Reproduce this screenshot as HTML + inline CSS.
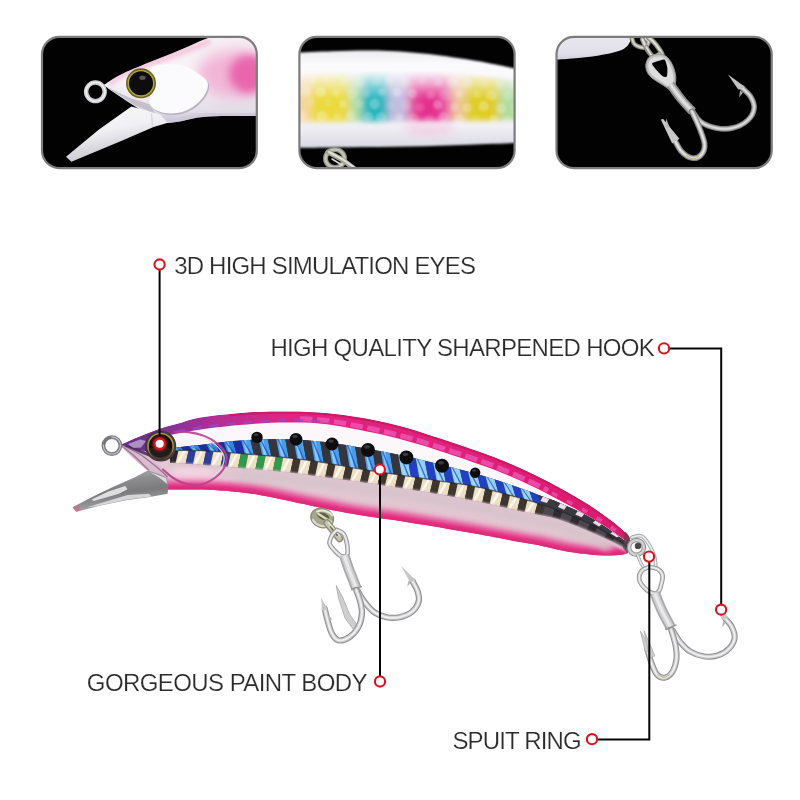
<!DOCTYPE html>
<html><head><meta charset="utf-8"><title>lure</title>
<style>
html,body{margin:0;padding:0;background:#fff;width:800px;height:800px;overflow:hidden}
svg{display:block}
text{font-family:"Liberation Sans",sans-serif}
</style></head><body>
<svg width="800" height="800" viewBox="0 0 800 800">
<defs>
<filter id="tb" x="-20%" y="-20%" width="140%" height="140%"><feGaussianBlur stdDeviation="0.7"/></filter>
<filter id="tb15" x="-30%" y="-30%" width="160%" height="160%"><feGaussianBlur stdDeviation="1.3"/></filter>
<filter id="tb2" x="-30%" y="-30%" width="160%" height="160%"><feGaussianBlur stdDeviation="2"/></filter>
<filter id="tb4" x="-50%" y="-50%" width="200%" height="200%"><feGaussianBlur stdDeviation="4.5"/></filter>
<filter id="tb7" x="-50%" y="-50%" width="200%" height="200%"><feGaussianBlur stdDeviation="7"/></filter>
<clipPath id="tc0"><rect x="42" y="36.9" width="214.8" height="131.2" rx="17.5" /></clipPath>
<clipPath id="tc1"><rect x="299.4" y="36.9" width="215.2" height="131.2" rx="17.5" /></clipPath>
<clipPath id="tc2"><rect x="556.5" y="36.9" width="215.2" height="131.2" rx="17.5" /></clipPath>
<linearGradient id="t1body" x1="0" y1="0" x2="0" y2="1"><stop offset="0" stop-color="#f6eef4"/><stop offset=".55" stop-color="#f7f5f8"/><stop offset=".85" stop-color="#e4dfe9"/><stop offset="1" stop-color="#cfc9d8"/></linearGradient>
<clipPath id="t1bc"><path d="M103.5 85.1C106.3 83.4 112.3 78.8 120 74.9C127.8 71.1 140 66.2 150 62C160 57.9 171 53.8 180 50C189 46.3 197 42.3 204 39.5C211 36.8 219 34.5 222 33.5L262 30L262 116.5L262 116.5C261.2 116.4 263.8 116.1 257.1 116C250.4 115.9 231.9 115.8 222 116C212.2 116.3 205 116.6 198 117.5C191 118.4 186 120.6 180 121.4C174 122.3 167 123.5 162 122.6C157 121.7 155 119 150 116C145 113 138 108.5 132 104.6C126 100.7 118.8 95.9 114 92.6C109.3 89.4 105.3 86.4 103.5 85.1Z"/></clipPath>
<linearGradient id="t1lip" x1="0" y1="0" x2=".35" y2="1"><stop offset="0" stop-color="#fbfbfd"/><stop offset=".5" stop-color="#f0eff3"/><stop offset="1" stop-color="#c5c3cd"/></linearGradient>
<linearGradient id="t2body" x1="0" y1="0" x2="0" y2="1"><stop offset="0" stop-color="#ecebf1"/><stop offset=".14" stop-color="#fbfbfd"/><stop offset=".75" stop-color="#f4f3f8"/><stop offset="1" stop-color="#d9d9e4"/></linearGradient>
<linearGradient id="t2mg" gradientUnits="userSpaceOnUse" x1="0" y1="71" x2="0" y2="126"><stop offset="0" stop-color="#000"/><stop offset=".16" stop-color="#555"/><stop offset=".36" stop-color="#bbb"/><stop offset=".52" stop-color="#fff"/><stop offset=".84" stop-color="#fff"/><stop offset=".97" stop-color="#000"/></linearGradient>
<mask id="t2mask" maskUnits="userSpaceOnUse" x="290" y="60" width="240" height="80"><g filter="url(#tb2)"><path d="M292 74.5C301.3 74.2 328.7 73.4 348 72.8C367.3 72.2 388 70.7 408 71C428 71.3 448.7 72.8 468 74.6C487.3 76.4 514.7 80.8 524 82L524 122C514.7 122.1 487.3 122.4 468 122.6C448.7 122.8 428 122.9 408 123.2C388 123.5 367.3 124 348 124.4C328.7 124.8 301.3 125.3 292 125.5Z" fill="url(#t2mg)"/></g></mask>
<linearGradient id="t3body" x1="0" y1="0" x2="0" y2="1"><stop offset="0" stop-color="#ececf2"/><stop offset=".7" stop-color="#e1e0ea"/><stop offset="1" stop-color="#c9c8d6"/></linearGradient>
<filter id="lb" x="-5%" y="-10%" width="110%" height="120%"><feGaussianBlur stdDeviation="0.6"/></filter>
<filter id="lb1" x="-10%" y="-20%" width="120%" height="140%"><feGaussianBlur stdDeviation="1.1"/></filter>
<filter id="lb3" x="-10%" y="-30%" width="120%" height="160%"><feGaussianBlur stdDeviation="3"/></filter>
<filter id="lb5" x="-10%" y="-40%" width="120%" height="180%"><feGaussianBlur stdDeviation="5"/></filter>
<clipPath id="lbody"><path d="M121.5 444.5L127.5 441.8L133.5 439.1L139.5 436.6L145.5 434.1L151.5 431.7L157.5 429.4L163.5 427.4L169.5 425.7L175.5 424.2L181.5 422.6L187.5 420.6L193.5 418.8L199.5 417.6L205.5 416.7L211.5 415.9L217.5 415.1L223.5 414.5L229.5 413.9L235.5 413.4L241.5 412.9L247.5 412.5L253.5 412.1L259.5 411.9L265.5 411.7L271.5 411.5L277.5 411.4L283.5 411.4L289.5 411.4L295.5 411.5L301.5 411.6L307.5 411.9L313.5 412.2L319.5 412.6L325.5 413.1L331.5 413.6L337.5 414.3L343.5 415L349.5 415.9L355.5 416.8L361.5 417.8L367.5 418.8L373.5 420L379.5 421.2L385.5 422.5L391.5 423.9L397.5 425.4L403.5 426.9L409.5 428.7L415.5 430.5L421.5 432.4L427.5 434.4L433.5 436.4L439.5 438.3L445.5 440.3L451.5 442.3L457.5 444.3L463.5 446.3L469.5 448.4L475.5 450.4L481.5 452.5L487.5 454.7L493.5 456.9L499.5 459.3L505.5 461.7L511.5 464.3L517.5 466.9L523.5 469.6L529.5 472.4L535.5 475.3L541.5 478.3L547.5 481.3L553.5 484.5L559.5 487.7L565.5 491.1L571.5 494.5L577.5 498L583.5 501.6L589.5 505.3L595.5 509.3L601.5 513.6L607.5 517.9L613.5 522.3L619.5 527.2L625.5 532.5L627 533.9C631.5 537 632 550 627 553.6L627 553.6L622 554.7L616 555.2L610 555.4L604 555.4L598 555.2L592 554.7L586 554.1L580 553.4L574 552.6L568 551.7L562 550.5L556 549.2L550 547.8L544 546.4L538 545.1L532 544.1L526 543.1L520 542L514 540.9L508 539.7L502 538.6L496 537.5L490 536.3L484 535.2L478 534.1L472 533.1L466 532L460 530.9L454 529.9L448 528.9L442 527.8L436 526.8L430 525.8L424 524.8L418 523.9L412 522.9L406 521.9L400 521L394 520.1L388 519.2L382 518.4L376 517.5L370 516.7L364 515.8L358 514.8L352 513.8L346 512.8L340 511.6L334 510.4L328 509.2L322 507.9L316 506.7L310 505.4L304 504.1L298 502.9L292 501.6L286 500.3L280 499L274 497.7L268 496.5L262 495.4L256 494.3L250 493.4L244 492.7L238 492L232 491.4L226 490.8L220 490.4L214 490L208 489.7L202 489.6L196 489.4L190 489.4L184 489.4L178 489.4L172 489.5L166 489.5L166 489.5L160 482L148 471L134 458L125 449.5L121.5 444.5Z"/></clipPath>
<linearGradient id="bandg" gradientUnits="userSpaceOnUse" x1="120" y1="0" x2="630" y2="0"><stop offset="0" stop-color="#6f2c88"/><stop offset=".11" stop-color="#8c3197"/><stop offset=".2" stop-color="#b82d94"/><stop offset=".3" stop-color="#d92786"/><stop offset=".42" stop-color="#e2237f"/><stop offset="1" stop-color="#dc1d6e"/></linearGradient>
<linearGradient id="lipg" x1="0" y1="0" x2=".25" y2="1"><stop offset="0" stop-color="#b9b9bb"/><stop offset=".35" stop-color="#8e8e90"/><stop offset=".62" stop-color="#7a7a7c"/><stop offset="1" stop-color="#a9a9ab"/></linearGradient>
<filter id="b1" x="-50%" y="-50%" width="200%" height="200%"><feGaussianBlur stdDeviation="1.5"/></filter>

</defs>
<rect width="800" height="800" fill="#fff"/>
<rect x="42" y="36.9" width="214.8" height="131.2" rx="17.5" fill="#020202"/>
<g clip-path="url(#tc0)"><g filter="url(#tb)">
<path d="M103.5 85.1C106.3 83.4 112.3 78.8 120 74.9C127.8 71.1 140 66.2 150 62C160 57.9 171 53.8 180 50C189 46.3 197 42.3 204 39.5C211 36.8 219 34.5 222 33.5L262 30L262 116.5L262 116.5C261.2 116.4 263.8 116.1 257.1 116C250.4 115.9 231.9 115.8 222 116C212.2 116.3 205 116.6 198 117.5C191 118.4 186 120.6 180 121.4C174 122.3 167 123.5 162 122.6C157 121.7 155 119 150 116C145 113 138 108.5 132 104.6C126 100.7 118.8 95.9 114 92.6C109.3 89.4 105.3 86.4 103.5 85.1Z" fill="url(#t1body)"/>
<g clip-path="url(#t1bc)">
<path d="M108.6 83.6C112 81.6 121.1 75.3 129 71.6C136.9 67.9 146.5 64.9 156 61.4C165.5 57.9 177 54 186 50.6C195 47.2 206 42.6 210 41" fill="none" stroke="#f3a9cd" stroke-width="6" opacity=".6" filter="url(#tb2)"/>
<path d="M261 115.4C254.5 115.4 232.5 115.2 222 115.4C211.5 115.7 205 116.1 198 116.9C191 117.8 186 119.8 180 120.5C174 121.3 165 121.3 162 121.4" fill="none" stroke="#c9c2d6" stroke-width="5" opacity=".9" filter="url(#tb2)"/>
<ellipse cx="247.8" cy="74" rx="19" ry="18" fill="#e0268c" filter="url(#tb4)"/>
<ellipse cx="237" cy="74" rx="40" ry="24" fill="#ef8fc2" opacity=".62" filter="url(#tb7)"/>
</g>
<path d="M105 86L133.5 104.6L156 114.5L150 104.6L129 97.4Z" fill="#bdb6c4" opacity=".8"/>
<path d="M150.6 68.6C152.4 65 159.6 64.9 165 64.4C170.4 63.9 177.5 64.1 183 65.6C188.5 67.1 193.9 70.6 198 73.4C202.1 76.2 206.5 78.8 207.6 82.4C208.7 86 207 91 204.6 95C202.3 99 198.1 103.4 193.5 106.4C188.9 109.4 182.8 112.2 177 113C171.3 113.9 163.6 113.3 159 111.5C154.4 109.8 150.2 106.8 149.4 102.5C148.7 98.3 154.3 91.7 154.5 86C154.7 80.4 148.9 72.2 150.6 68.6Z" fill="#b9b2c3" transform="translate(1.2,1.6)"/>
<path d="M150.6 68.6C152.4 65 159.6 64.9 165 64.4C170.4 63.9 177.5 64.1 183 65.6C188.5 67.1 193.9 70.6 198 73.4C202.1 76.2 206.5 78.8 207.6 82.4C208.7 86 207 91 204.6 95C202.3 99 198.1 103.4 193.5 106.4C188.9 109.4 182.8 112.2 177 113C171.3 113.9 163.6 113.3 159 111.5C154.4 109.8 150.2 106.8 149.4 102.5C148.7 98.3 154.3 91.7 154.5 86C154.7 80.4 148.9 72.2 150.6 68.6Z" fill="#fbfafc"/>
<path d="M131.4 106.4L145 110.3L160 114.5L168 122.8L153.6 127L120 141.5L71.4 161.8L66 156.8L99 129.5Z" fill="url(#t1lip)"/>
<path d="M151.5 113.5L152.5 126.5" fill="none" stroke="#d8d5de" stroke-width="1.3"/>
<circle cx="95.4" cy="91.8" r="9.3" fill="none" stroke="#cfcfd2" stroke-width="4.4"/>
<circle cx="95.4" cy="91.8" r="9.5" fill="none" stroke="#eeeeef" stroke-width="1.6"/>
<circle cx="141" cy="83.3" r="15" fill="#6c6424"/>
<circle cx="141" cy="83.3" r="13.4" fill="#b3a63c"/>
<circle cx="141" cy="83.3" r="12" fill="#0a0a0a"/>
<ellipse cx="142.5" cy="77.8" rx="3.2" ry="2.2" fill="#6a6a6a" opacity=".8"/>
</g></g>
<rect x="299.4" y="36.9" width="215.2" height="131.2" rx="17.5" fill="#020202"/>
<g clip-path="url(#tc1)">
<path d="M296 52.6C302.2 52.4 319.3 51.5 333 51.2C346.7 50.9 363 50.2 378 50.6C393 51 408 52.1 423 53.6C438 55.1 455.5 57.7 468 59.6C480.5 61.5 489.3 63.4 498 65C506.7 66.7 516.3 68.8 520 69.5L520 142.8C511.3 143.1 486.7 144.2 468 144.8C449.3 145.4 428 146.2 408 146.6C388 147 366.7 147 348 147.2C329.3 147.4 304.7 147.7 296 147.8Z" fill="url(#t2body)" filter="url(#tb15)"/>
<g mask="url(#t2mask)"><g filter="url(#tb4)">
<rect x="279" y="68" width="34.5" height="61.5" fill="#f6d6a2" opacity="1"/>
<rect x="310.5" y="68" width="39" height="61.5" fill="#ebd93c" opacity="1"/>
<rect x="349.5" y="68" width="12" height="61.5" fill="#b5dfa6" opacity="1"/>
<rect x="361.5" y="68" width="27" height="61.5" fill="#2cb5be" opacity="1"/>
<rect x="388.5" y="68" width="19.5" height="61.5" fill="#c4bde0" opacity="1"/>
<rect x="408" y="68" width="43.5" height="61.5" fill="#e85aa6" opacity="1"/>
<rect x="415.5" y="86" width="25.5" height="43.5" fill="#e3308e" opacity="1"/>
<rect x="451.5" y="68" width="13.5" height="61.5" fill="#efc69c" opacity="1"/>
<rect x="465" y="68" width="34.5" height="61.5" fill="#dfcd28" opacity="1"/>
<rect x="499.5" y="68" width="28.5" height="61.5" fill="#b2dca0" opacity="1"/>
</g>
<g filter="url(#tb15)"><circle cx="296.4" cy="78.5" r="4.8" fill="#fff" opacity="0.11"/><circle cx="312.7" cy="79.5" r="3.6" fill="#fff" opacity="0.18"/><circle cx="326.5" cy="79.9" r="3.6" fill="#fff" opacity="0.11"/><circle cx="343.5" cy="81.4" r="3.7" fill="#fff" opacity="0.14"/><circle cx="359.9" cy="82.1" r="4.7" fill="#fff" opacity="0.16"/><circle cx="376.7" cy="79.7" r="5.2" fill="#fff" opacity="0.15"/><circle cx="389.3" cy="80.1" r="4.1" fill="#fff" opacity="0.23"/><circle cx="405.1" cy="81.8" r="4.8" fill="#fff" opacity="0.16"/><circle cx="422" cy="80.6" r="3.6" fill="#fff" opacity="0.13"/><circle cx="438.1" cy="82" r="4.1" fill="#fff" opacity="0.19"/><circle cx="452.8" cy="81.8" r="5.1" fill="#fff" opacity="0.21"/><circle cx="467.7" cy="82.9" r="4.6" fill="#fff" opacity="0.24"/><circle cx="485" cy="82.4" r="5.5" fill="#fff" opacity="0.12"/><circle cx="499.5" cy="84.1" r="3.8" fill="#fff" opacity="0.18"/><circle cx="513.7" cy="84.1" r="5" fill="#fff" opacity="0.19"/><circle cx="306.2" cy="91.2" r="4.9" fill="#fff" opacity="0.20"/><circle cx="320.7" cy="91.9" r="5.2" fill="#fff" opacity="0.25"/><circle cx="335.9" cy="92.8" r="3.6" fill="#fff" opacity="0.21"/><circle cx="352.1" cy="94.1" r="5.1" fill="#fff" opacity="0.15"/><circle cx="366.8" cy="93.4" r="3.5" fill="#fff" opacity="0.17"/><circle cx="381.6" cy="92" r="3.6" fill="#fff" opacity="0.22"/><circle cx="397.1" cy="92.7" r="4.3" fill="#fff" opacity="0.24"/><circle cx="412.5" cy="93.6" r="4.6" fill="#fff" opacity="0.24"/><circle cx="430.8" cy="95.1" r="4.1" fill="#fff" opacity="0.17"/><circle cx="444.7" cy="95.5" r="5.4" fill="#fff" opacity="0.12"/><circle cx="459.6" cy="93.8" r="4" fill="#fff" opacity="0.18"/><circle cx="476.7" cy="94.2" r="3.5" fill="#fff" opacity="0.17"/><circle cx="491.5" cy="95.4" r="5.4" fill="#fff" opacity="0.21"/><circle cx="507.7" cy="95.8" r="4.9" fill="#fff" opacity="0.11"/><circle cx="524.6" cy="96.6" r="5.2" fill="#fff" opacity="0.23"/><circle cx="296.6" cy="103.3" r="3.7" fill="#fff" opacity="0.20"/><circle cx="311" cy="102.5" r="3.9" fill="#fff" opacity="0.13"/><circle cx="327.6" cy="102.8" r="3.5" fill="#fff" opacity="0.12"/><circle cx="342.4" cy="104" r="3.6" fill="#fff" opacity="0.24"/><circle cx="359.8" cy="103.7" r="4" fill="#fff" opacity="0.16"/><circle cx="374.5" cy="103.9" r="5.2" fill="#fff" opacity="0.26"/><circle cx="390.5" cy="105.2" r="3.7" fill="#fff" opacity="0.12"/><circle cx="405.6" cy="104.9" r="5.2" fill="#fff" opacity="0.13"/><circle cx="420.1" cy="107.2" r="4.6" fill="#fff" opacity="0.12"/><circle cx="437.6" cy="104.7" r="4.6" fill="#fff" opacity="0.26"/><circle cx="454.3" cy="107.1" r="4" fill="#fff" opacity="0.16"/><circle cx="467.4" cy="107.5" r="4.6" fill="#fff" opacity="0.22"/><circle cx="483.6" cy="106.2" r="5.1" fill="#fff" opacity="0.26"/><circle cx="501.1" cy="108.3" r="5.1" fill="#fff" opacity="0.22"/><circle cx="514.4" cy="107.6" r="4.2" fill="#fff" opacity="0.10"/><circle cx="303.1" cy="115" r="4" fill="#fff" opacity="0.21"/><circle cx="322" cy="115.9" r="5.4" fill="#fff" opacity="0.26"/><circle cx="337.6" cy="115.9" r="3.9" fill="#fff" opacity="0.14"/><circle cx="350.5" cy="115.7" r="4.7" fill="#fff" opacity="0.24"/><circle cx="368.4" cy="116.8" r="4.8" fill="#fff" opacity="0.23"/><circle cx="381.3" cy="117.6" r="5.3" fill="#fff" opacity="0.23"/><circle cx="399.3" cy="117.4" r="3.9" fill="#fff" opacity="0.23"/><circle cx="413.4" cy="118.6" r="5.4" fill="#fff" opacity="0.16"/><circle cx="429.2" cy="119.4" r="4.9" fill="#fff" opacity="0.13"/><circle cx="443.9" cy="117.2" r="5.3" fill="#fff" opacity="0.23"/><circle cx="459.5" cy="119.6" r="5.5" fill="#fff" opacity="0.21"/><circle cx="475.9" cy="119" r="3.8" fill="#fff" opacity="0.10"/><circle cx="493.7" cy="119.7" r="4.6" fill="#fff" opacity="0.25"/><circle cx="507.4" cy="120.6" r="5.2" fill="#fff" opacity="0.13"/><circle cx="522.3" cy="119.1" r="4" fill="#fff" opacity="0.19"/></g>
</g>
<ellipse cx="429" cy="129.5" rx="26" ry="6" fill="#f6bfdc" opacity=".6" filter="url(#tb4)"/>
<g fill="none" stroke-linecap="round" filter="url(#tb)">
<ellipse cx="335" cy="158.5" rx="9.5" ry="9" stroke="#8d8d80" stroke-width="5"/>
<ellipse cx="335" cy="158.5" rx="9.5" ry="9" stroke="#c2c2b6" stroke-width="2.6"/>
<path d="M328 152L343 160L356 170" stroke="#a5a598" stroke-width="5"/>
<path d="M329 152L343 159.5L355 168" stroke="#e2e2da" stroke-width="2"/>
<path d="M332 159L342 165" stroke="#d8d8ce" stroke-width="1.6"/>
</g>
</g>
<rect x="556.5" y="36.9" width="215.2" height="131.2" rx="17.5" fill="#020202"/>
<g clip-path="url(#tc2)"><g filter="url(#tb)">
<path d="M550 30L630.5 35L630.5 35C630.4 36.3 631.1 40 629.6 42.5C628.1 45 626.6 47.9 621.5 50C616.4 52.2 607.3 54 599 55.4C590.8 56.8 580 57.7 572 58.4C564 59.2 554.5 59.7 551 59.9L550 62Z" fill="url(#t3body)"/>
<g fill="none" stroke-linejoin="round">
<path d="M632 38.6C632.5 39.6 633 43.1 635 44.6C637 46.1 641.8 48.1 644 47.6C646.3 47.1 648.8 43.4 648.5 41.6C648.3 39.8 643.5 37.6 642.5 36.8" stroke="#77776f" stroke-width="4.8" stroke-linecap="round"/><path d="M632 38.6C632.5 39.6 633 43.1 635 44.6C637 46.1 641.8 48.1 644 47.6C646.3 47.1 648.8 43.4 648.5 41.6C648.3 39.8 643.5 37.6 642.5 36.8" stroke="#b4b4aa" stroke-width="3" stroke-linecap="round"/><path d="M632 38.6C632.5 39.6 633 43.1 635 44.6C637 46.1 641.8 48.1 644 47.6C646.3 47.1 648.8 43.4 648.5 41.6C648.3 39.8 643.5 37.6 642.5 36.8" stroke="#dcdcd6" stroke-width="1.2" stroke-linecap="round"/>
<path d="M642.5 39.5C643.5 41.5 646 48.2 648.5 51.5C651 54.9 655.2 58.9 657.5 59.6C659.9 60.4 662.9 58.5 662.6 56C662.4 53.5 658.4 47.7 656 44.6C653.7 41.5 649.8 38.6 648.5 37.4" stroke="#84847c" stroke-width="5" stroke-linecap="round"/><path d="M642.5 39.5C643.5 41.5 646 48.2 648.5 51.5C651 54.9 655.2 58.9 657.5 59.6C659.9 60.4 662.9 58.5 662.6 56C662.4 53.5 658.4 47.7 656 44.6C653.7 41.5 649.8 38.6 648.5 37.4" stroke="#c0c0b8" stroke-width="3.1" stroke-linecap="round"/><path d="M642.5 39.5C643.5 41.5 646 48.2 648.5 51.5C651 54.9 655.2 58.9 657.5 59.6C659.9 60.4 662.9 58.5 662.6 56C662.4 53.5 658.4 47.7 656 44.6C653.7 41.5 649.8 38.6 648.5 37.4" stroke="#e8e8e2" stroke-width="1.2" stroke-linecap="round"/>
<path d="M646.4 47C647.4 48.5 650.2 54.9 652.4 56C654.6 57.1 658.4 54 659.6 53.6" stroke="#84847c" stroke-width="4" stroke-linecap="round"/><path d="M646.4 47C647.4 48.5 650.2 54.9 652.4 56C654.6 57.1 658.4 54 659.6 53.6" stroke="#c0c0b8" stroke-width="2.5" stroke-linecap="round"/><path d="M646.4 47C647.4 48.5 650.2 54.9 652.4 56C654.6 57.1 658.4 54 659.6 53.6" stroke="#e8e8e2" stroke-width="1" stroke-linecap="round"/>
<path d="M650.6 56C647.8 57.8 646 61.8 645.8 65C645.6 68.3 646.7 72.3 649.4 75.5C652.1 78.8 658.2 82.2 662 84.5C665.9 86.9 670.2 90.9 672.5 89.6C674.8 88.4 676.1 81.6 675.8 77C675.6 72.4 673.2 65.8 671 62C668.8 58.3 666 55.5 662.6 54.5C659.2 53.5 653.4 54.3 650.6 56Z" fill="#bdbdbd" stroke="#8d8d8d" stroke-width="1"/>
<path d="M651.8 58.4C649.5 59.9 648.3 63 648.2 65.6C648.1 68.2 648.8 71.2 651.2 74C653.6 76.8 659.3 80.3 662.6 82.4C665.9 84.5 669.2 87.5 671 86.6C672.8 85.7 673.8 80.9 673.4 77C673.1 73.1 670.8 66.6 668.9 63.2C667 59.9 664.9 57.7 662 56.9C659.2 56.1 654.1 57 651.8 58.4Z" fill="#dedede" stroke="none"/>
<path d="M652 63.6C652.3 62.7 656.5 61.5 658 61C659.5 60.5 663.4 58.8 664.5 59.6C665.6 60.4 667 65.5 667.3 67.5C667.6 69.5 667.4 75.6 666.8 76.6C666.2 77.6 663.8 76.9 662.5 76C661.2 75.1 656.7 70.4 655.5 69C654.3 67.6 651.7 64.5 652 63.6Z" fill="#050505" stroke="none"/>
<path d="M670.4 84.5C672.3 87 677.8 95 681.5 99.5C685.2 104 690.8 109.5 692.6 111.5" stroke="#8a8a8a" stroke-width="9" stroke-linecap="butt"/><path d="M670.4 84.5C672.3 87 677.8 95 681.5 99.5C685.2 104 690.8 109.5 692.6 111.5" stroke="#c4c4c4" stroke-width="5.6" stroke-linecap="butt"/><path d="M670.4 84.5C672.3 87 677.8 95 681.5 99.5C685.2 104 690.8 109.5 692.6 111.5" stroke="#e2e2e2" stroke-width="2.2" stroke-linecap="butt"/>
<path d="M692.6 111.5C694 113.3 697.1 119.3 701 122C704.9 124.8 710.8 127 716 128C721.3 129 727.3 129.3 732.5 128C737.8 126.8 743.9 123.8 747.5 120.5C751.1 117.3 753.6 112.5 754.1 108.5C754.6 104.5 752.6 100 750.5 96.5C748.4 93 743 89 741.5 87.5" stroke="#7f7f7f" stroke-width="5.6" stroke-linecap="round"/><path d="M692.6 111.5C694 113.3 697.1 119.3 701 122C704.9 124.8 710.8 127 716 128C721.3 129 727.3 129.3 732.5 128C737.8 126.8 743.9 123.8 747.5 120.5C751.1 117.3 753.6 112.5 754.1 108.5C754.6 104.5 752.6 100 750.5 96.5C748.4 93 743 89 741.5 87.5" stroke="#bcbcbc" stroke-width="3.5" stroke-linecap="round"/><path d="M692.6 111.5C694 113.3 697.1 119.3 701 122C704.9 124.8 710.8 127 716 128C721.3 129 727.3 129.3 732.5 128C737.8 126.8 743.9 123.8 747.5 120.5C751.1 117.3 753.6 112.5 754.1 108.5C754.6 104.5 752.6 100 750.5 96.5C748.4 93 743 89 741.5 87.5" stroke="#dddddd" stroke-width="1.4" stroke-linecap="round"/>
<path d="M738.2 89.6L728 74.6L745.4 87.2Z" fill="#c4c4c4"/>
<path d="M740 90.5L739.1 97.4L743 92.6Z" fill="#a8a8a8"/>
<path d="M692 111.5C693.3 114.3 697.4 122.5 699.5 128C701.6 133.5 704.4 140 704.6 144.5C704.9 149 703.1 152.8 701 155C698.9 157.3 695.3 158.6 692 158C688.8 157.4 684.4 154.4 681.5 151.4C678.6 148.4 675.8 141.9 674.6 140" stroke="#7f7f7f" stroke-width="5.8" stroke-linecap="round"/><path d="M692 111.5C693.3 114.3 697.4 122.5 699.5 128C701.6 133.5 704.4 140 704.6 144.5C704.9 149 703.1 152.8 701 155C698.9 157.3 695.3 158.6 692 158C688.8 157.4 684.4 154.4 681.5 151.4C678.6 148.4 675.8 141.9 674.6 140" stroke="#c2c2c2" stroke-width="3.6" stroke-linecap="round"/><path d="M692 111.5C693.3 114.3 697.4 122.5 699.5 128C701.6 133.5 704.4 140 704.6 144.5C704.9 149 703.1 152.8 701 155C698.9 157.3 695.3 158.6 692 158C688.8 157.4 684.4 154.4 681.5 151.4C678.6 148.4 675.8 141.9 674.6 140" stroke="#e6e6e6" stroke-width="1.4" stroke-linecap="round"/>
<path d="M672.2 143.6L660.8 119.6L663.2 119L679.4 138.8Z" fill="#c9c9c9"/>
<path d="M665.6 127.4L666.2 118.4L669.8 128Z" fill="#bcbcbc"/>
<path d="M686 155.6C687.3 156.2 691.3 158.9 693.5 158.9C695.8 158.9 698.5 156.2 699.5 155.6" stroke="#b79a3a" stroke-width="1" opacity=".8"/>
</g>
</g></g>
<rect x="42" y="36.9" width="214.8" height="131.2" rx="17.5" fill="none" stroke="#7c7c7c" stroke-width="2.2"/>
<rect x="299.4" y="36.9" width="215.2" height="131.2" rx="17.5" fill="none" stroke="#7c7c7c" stroke-width="2.2"/>
<rect x="556.5" y="36.9" width="215.2" height="131.2" rx="17.5" fill="none" stroke="#7c7c7c" stroke-width="2.2"/>
<g filter="url(#lb)">
<g clip-path="url(#lbody)">
<path d="M121.5 444.5L127.5 441.8L133.5 439.1L139.5 436.6L145.5 434.1L151.5 431.7L157.5 429.4L163.5 427.4L169.5 425.7L175.5 424.2L181.5 422.6L187.5 420.6L193.5 418.8L199.5 417.6L205.5 416.7L211.5 415.9L217.5 415.1L223.5 414.5L229.5 413.9L235.5 413.4L241.5 412.9L247.5 412.5L253.5 412.1L259.5 411.9L265.5 411.7L271.5 411.5L277.5 411.4L283.5 411.4L289.5 411.4L295.5 411.5L301.5 411.6L307.5 411.9L313.5 412.2L319.5 412.6L325.5 413.1L331.5 413.6L337.5 414.3L343.5 415L349.5 415.9L355.5 416.8L361.5 417.8L367.5 418.8L373.5 420L379.5 421.2L385.5 422.5L391.5 423.9L397.5 425.4L403.5 426.9L409.5 428.7L415.5 430.5L421.5 432.4L427.5 434.4L433.5 436.4L439.5 438.3L445.5 440.3L451.5 442.3L457.5 444.3L463.5 446.3L469.5 448.4L475.5 450.4L481.5 452.5L487.5 454.7L493.5 456.9L499.5 459.3L505.5 461.7L511.5 464.3L517.5 466.9L523.5 469.6L529.5 472.4L535.5 475.3L541.5 478.3L547.5 481.3L553.5 484.5L559.5 487.7L565.5 491.1L571.5 494.5L577.5 498L583.5 501.6L589.5 505.3L595.5 509.3L601.5 513.6L607.5 517.9L613.5 522.3L619.5 527.2L625.5 532.5L627 533.9C631.5 537 632 550 627 553.6L627 553.6L622 554.7L616 555.2L610 555.4L604 555.4L598 555.2L592 554.7L586 554.1L580 553.4L574 552.6L568 551.7L562 550.5L556 549.2L550 547.8L544 546.4L538 545.1L532 544.1L526 543.1L520 542L514 540.9L508 539.7L502 538.6L496 537.5L490 536.3L484 535.2L478 534.1L472 533.1L466 532L460 530.9L454 529.9L448 528.9L442 527.8L436 526.8L430 525.8L424 524.8L418 523.9L412 522.9L406 521.9L400 521L394 520.1L388 519.2L382 518.4L376 517.5L370 516.7L364 515.8L358 514.8L352 513.8L346 512.8L340 511.6L334 510.4L328 509.2L322 507.9L316 506.7L310 505.4L304 504.1L298 502.9L292 501.6L286 500.3L280 499L274 497.7L268 496.5L262 495.4L256 494.3L250 493.4L244 492.7L238 492L232 491.4L226 490.8L220 490.4L214 490L208 489.7L202 489.6L196 489.4L190 489.4L184 489.4L178 489.4L172 489.5L166 489.5L166 489.5L160 482L148 471L134 458L125 449.5L121.5 444.5Z" fill="#e3c8d2"/>
<ellipse cx="205" cy="474" rx="34" ry="13" fill="#f5d3e3" opacity=".85" filter="url(#lb3)"/>
<path d="M121.5 444.5L129.5 440.9L137.5 437.5L145.5 434.1L153.5 430.9L161.5 428L169.5 425.7L177.5 423.7L185.5 421.3L193.5 418.8L201.5 417.3L209.5 416.1L217.5 415.1L225.5 414.3L233.5 413.5L241.5 412.9L249.5 412.4L257.5 411.9L265.5 411.7L273.5 411.5L281.5 411.4L289.5 411.4L297.5 411.5L305.5 411.8L313.5 412.2L321.5 412.7L329.5 413.4L337.5 414.3L345.5 415.3L353.5 416.5L361.5 417.8L369.5 419.2L377.5 420.8L385.5 422.5L393.5 424.4L401.5 426.4L409.5 428.7L417.5 431.1L425.5 433.7L433.5 436.4L441.5 439L449.5 441.6L457.5 444.3L465.5 447L473.5 449.7L481.5 452.5L489.5 455.4L497.5 458.5L505.5 461.7L513.5 465.1L521.5 468.7L529.5 472.4L537.5 476.3L545.5 480.3L553.5 484.5L561.5 488.8L569.5 493.4L577.5 498L585.5 502.8L593.5 508L601.5 513.6L609.5 519.3L617.5 525.5L625.5 532.5L629 535.9L629 544.6L626 541.9L618 535.7L610 530.1L602 524.8L594 519.6L586 515L578 511.1L570 507.4L562 503.9L554 500.6L546 497.7L538 494.7L530 491.6L522 488.7L514 486L506 483.3L498 480.6L490 478.1L482 475.6L474 473.3L466 471.1L458 469L450 467L442 465L434 463L426 461L418 459.1L410 457.2L402 455.4L394 453.8L386 452.2L378 450.7L370 449.2L362 447.8L354 446.5L346 445.1L338 443.9L330 442.7L322 441.7L314 440.9L306 440.3L298 439.8L290 439.4L282 439.2L274 439.2L266 439.3L258 439.5L250 439.9L242 440.4L234 441L226 441.8L218 442.8L210 443.8L202 444.8L194 445.6L186 446.4L178 447.2L170 448.5L150 452Z" fill="#fbf7fa"/>
<path d="M150 491L158 491L166 491L174 491L182 490.9L190 490.9L198 491L206 491.2L214 491.5L222 492L230 492.7L238 493.5L246 494.4L254 495.5L262 496.9L270 498.4L278 500.1L286 501.8L294 503.5L302 505.2L310 506.9L318 508.6L326 510.3L334 511.9L342 513.5L350 515L358 516.3L366 517.6L374 518.7L382 519.9L390 521L398 522.2L406 523.4L414 524.7L422 526L430 527.3L438 528.7L446 530L454 531.4L462 532.8L470 534.2L478 535.6L486 537.1L494 538.6L502 540.1L510 541.6L518 543.1L526 544.6L534 545.9L542 547.4L550 549.3L558 551.1L566 552.8L574 554.1L582 555.2L590 556L598 556.7L606 556.9L614 556.7L622 556.2L630 553.5L638 553.5L640 553.5" fill="none" stroke="#e6358a" stroke-width="20" filter="url(#lb3)"/>
<path d="M150 490L158 490L166 490L174 490L182 489.9L190 489.9L198 490L206 490.2L214 490.5L222 491L230 491.7L238 492.5L246 493.4L254 494.5L262 495.9L270 497.4L278 499.1L286 500.8L294 502.5L302 504.2L310 505.9L318 507.6L326 509.3L334 510.9L342 512.5L350 514L358 515.3L366 516.6L374 517.7L382 518.9L390 520L398 521.2L406 522.4L414 523.7L422 525L430 526.3L438 527.7L446 529L454 530.4L462 531.8L470 533.2L478 534.6L486 536.1L494 537.6L502 539.1L510 540.6L518 542.1L526 543.6L534 544.9L542 546.4L550 548.3L558 550.1L566 551.8L574 553.1L582 554.2L590 555L598 555.7L606 555.9L614 555.7L622 555.2L630 552.5L638 552.5L640 552.5" fill="none" stroke="#df2a78" stroke-width="8" filter="url(#lb1)" opacity=".9"/>
<path d="M215 472.9L223 473.6L231 474.3L239 474.9L247 475.6L255 476.2L263 476.9L271 477.6L279 478.4L287 479.3L295 480.2L303 481.3L311 482.3L319 483.4L327 484.4L335 485.5L343 486.6L351 487.7L359 488.9L367 490L375 491.2L383 492.4L391 493.6L399 494.8L407 496.1L415 497.4L423 498.6L431 500L439 501.3L447 502.7L455 504.2L463 505.7L471 507.2L479 508.8L487 510.5L495 512.3L503 514.1L511 516L519 517.8L527 519.5L535 521L543 522.6L551 524.3L559 526.4L567 529.2L575 532.4L583 535.7L591 539L599 542.5L607 546.2L610 547.6" fill="none" stroke="#d5c3ca" stroke-width="9" filter="url(#lb3)" opacity=".9"/>
</g>
<g clip-path="url(#lbody)">
<path d="M170 448.5L178 447.2L186 446.4L194 445.6L202 444.8L210 443.8L218 442.8L226 441.8L234 441L242 440.4L250 439.9L258 439.5L266 439.3L274 439.2L282 439.2L290 439.4L298 439.8L306 440.3L314 440.9L322 441.7L330 442.7L338 443.9L346 445.1L354 446.5L362 447.8L370 449.2L378 450.7L386 452.2L394 453.8L402 455.4L410 457.2L418 459.1L426 461L434 463L442 465L450 467L458 469L466 471.1L474 473.3L482 475.6L490 478.1L498 480.6L506 483.3L514 486L522 488.7L530 491.6L538 494.7L546 497.7L554 500.6L562 503.9L570 507.4L578 511.1L586 515L594 519.6L602 524.8L610 530.1L618 535.7L626 541.9L629 544.6L629 547.3L626 545.3L618 539.9L610 534.9L602 530.1L594 525.8L586 522L578 518.4L570 515L562 511.8L554 508.7L546 506L538 503.4L530 500.8L522 498.6L514 496.3L506 494.1L498 491.9L490 489.8L482 487.9L474 486.3L466 484.9L458 483.7L450 482.5L442 481.3L434 480.1L426 478.9L418 477.7L410 476.5L402 475.3L394 474.1L386 472.9L378 471.8L370 470.6L362 469.3L354 468L346 466.5L338 465.1L330 463.6L322 462.3L314 461.1L306 460L298 459L290 458.1L282 457.2L274 456.4L266 455.7L258 455L250 454.3L242 453.7L234 453L226 452.3L218 451.7L210 451.2L202 450.7L194 450.5L186 450.4L178 450.5L170 450.5Z" fill="#2c2e3a"/>
<path d="M170 450.5L178 450.5L186 450.4L194 450.5L202 450.7L210 451.2L218 451.7L226 452.3L234 453L242 453.7L250 454.3L258 455L266 455.7L274 456.4L282 457.2L290 458.1L298 459L306 460L314 461.1L322 462.3L330 463.6L338 465.1L346 466.5L354 468L362 469.3L370 470.6L378 471.8L386 472.9L394 474.1L402 475.3L410 476.5L418 477.7L426 478.9L434 480.1L442 481.3L450 482.5L458 483.7L466 484.9L474 486.3L482 487.9L490 489.8L498 491.9L506 494.1L514 496.3L522 498.6L530 500.8L538 503.4L546 506L554 508.7L562 511.8L570 515L578 518.4L586 522L594 525.8L602 530.1L610 534.9L618 539.9L626 545.3L629 547.3L629 550.4L626 548.8L618 544.5L610 540.6L602 536.9L594 533.3L586 529.9L578 526.6L570 523.4L562 520.4L554 518L546 516.2L538 514.6L530 513L522 511.4L514 509.7L506 507.8L498 506L490 504.2L482 502.4L474 500.8L466 499.2L458 497.7L450 496.3L442 494.9L434 493.5L426 492.1L418 490.8L410 489.6L402 488.3L394 487.1L386 485.8L378 484.6L370 483.5L362 482.3L354 481.1L346 480L338 478.9L330 477.8L322 476.8L314 475.7L306 474.7L298 473.6L290 472.6L282 471.7L274 470.9L266 470.1L258 469.5L250 468.8L242 468.2L234 467.5L226 466.8L218 466.2L210 465.5L202 464.9L194 464.3L186 463.7L178 463.3L170 463Z" fill="#2a2622"/>
<path d="M171.5 448.3L180.6 446.9L184.1 450.4L175 450.5Z" fill="#2f86e0"/>
<path d="M180.6 446.9L188.9 446.1L192.4 450.5L184.1 450.4Z" fill="#1c2fa0"/>
<path d="M173 448L176 447.5L179.5 450.4L176.5 450.5Z" fill="#a7dcfb" opacity=".7"/>
<path d="M172.5 448.1L174.1 447.8L182.6 450.4L181 450.4Z" fill="#2348b8" opacity=".75"/>
<path d="M178.5 450.5L188.6 450.4L185.6 463.7L175.5 463.2Z" fill="#efe2c4"/>
<path d="M188.6 450.4L195.9 450.5L192.9 464.2L185.6 463.7Z" fill="#2a3f9a"/>
<path d="M183.5 450.4L186 450.4L179 463.3L176.5 463.2Z" fill="#ffffff" opacity=".8"/>
<path d="M188.9 446.1L198 445.2L201.5 450.7L192.4 450.5Z" fill="#2f86e0"/>
<path d="M198 445.2L206.4 444.2L209.9 451.2L201.5 450.7Z" fill="#1c2fa0"/>
<path d="M190.4 446L193.4 445.7L196.9 450.5L193.9 450.5Z" fill="#a7dcfb" opacity=".7"/>
<path d="M189.9 446L191.5 445.9L200 450.6L198.4 450.6Z" fill="#2348b8" opacity=".75"/>
<path d="M195.9 450.5L206.1 450.9L203.1 465L192.9 464.2Z" fill="#efe2c4"/>
<path d="M206.1 450.9L213.4 451.4L210.4 465.6L203.1 465Z" fill="#2a3f9a"/>
<path d="M200.9 450.7L203.4 450.8L196.4 464.5L193.9 464.3Z" fill="#ffffff" opacity=".8"/>
<path d="M206.4 444.2L215.5 443.1L219 451.8L209.9 451.2Z" fill="#2f86e0"/>
<path d="M215.5 443.1L223.8 442.1L227.3 452.4L219 451.8Z" fill="#1c2fa0"/>
<path d="M207.9 444.1L210.9 443.7L214.4 451.5L211.4 451.3Z" fill="#a7dcfb" opacity=".7"/>
<path d="M207.4 444.1L209 443.9L217.5 451.7L215.9 451.6Z" fill="#2348b8" opacity=".75"/>
<path d="M213.4 451.4L223.5 452.1L220.5 466.4L210.4 465.6Z" fill="#efe2c4"/>
<path d="M223.5 452.1L230.8 452.7L227.8 467L220.5 466.4Z" fill="#2a3f9a"/>
<path d="M218.4 451.7L220.9 451.9L213.9 465.9L211.4 465.7Z" fill="#ffffff" opacity=".8"/>
<path d="M223.8 442.1L232.9 441.1L236.4 453.2L227.3 452.4Z" fill="#2f86e0"/>
<path d="M232.9 441.1L241.3 440.4L244.8 453.9L236.4 453.2Z" fill="#1c2fa0"/>
<path d="M225.3 441.9L228.3 441.6L231.8 452.8L228.8 452.6Z" fill="#a7dcfb" opacity=".7"/>
<path d="M224.8 442L226.4 441.8L234.9 453.1L233.3 452.9Z" fill="#2348b8" opacity=".75"/>
<path d="M230.8 452.7L241 453.6L238 467.8L227.8 467Z" fill="#efe0c0"/>
<path d="M241 453.6L248.3 454.2L245.3 468.4L238 467.8Z" fill="#2f9a4c"/>
<path d="M235.8 453.1L238.3 453.4L231.3 467.3L228.8 467.1Z" fill="#ffffff" opacity=".8"/>
<path d="M241.3 440.4L250.4 439.8L253.9 454.6L244.8 453.9Z" fill="#459fec"/>
<path d="M250.4 439.8L258.7 439.5L262.2 455.3L253.9 454.6Z" fill="#34353f"/>
<path d="M242.8 440.3L245.8 440.1L249.3 454.3L246.3 454Z" fill="#a7dcfb" opacity=".7"/>
<path d="M242.3 440.3L243.9 440.2L252.4 454.5L250.8 454.4Z" fill="#2348b8" opacity=".75"/>
<path d="M248.3 454.2L258.4 455L255.4 469.3L245.3 468.4Z" fill="#efe0c0"/>
<path d="M258.4 455L265.7 455.6L262.7 469.9L255.4 469.3Z" fill="#2f9a4c"/>
<path d="M253.3 454.6L255.8 454.8L248.8 468.7L246.3 468.5Z" fill="#ffffff" opacity=".8"/>
<path d="M258.7 439.5L267.8 439.2L271.3 456.1L262.2 455.3Z" fill="#459fec"/>
<path d="M267.8 439.2L276.2 439.2L279.7 457L271.3 456.1Z" fill="#34353f"/>
<path d="M260.2 439.4L263.2 439.3L266.7 455.7L263.7 455.5Z" fill="#a7dcfb" opacity=".7"/>
<path d="M259.7 439.4L261.3 439.4L269.8 456L268.2 455.9Z" fill="#2348b8" opacity=".75"/>
<path d="M265.7 455.6L275.9 456.6L272.9 470.8L262.7 469.9Z" fill="#efe0c0"/>
<path d="M275.9 456.6L283.2 457.3L280.2 471.5L272.9 470.8Z" fill="#2f9a4c"/>
<path d="M270.7 456.1L273.2 456.3L266.2 470.2L263.7 470Z" fill="#ffffff" opacity=".8"/>
<path d="M276.2 439.2L285.3 439.3L288.8 458L279.7 457Z" fill="#459fec"/>
<path d="M285.3 439.3L293.6 439.6L297.1 458.9L288.8 458Z" fill="#34353f"/>
<path d="M277.7 439.2L280.7 439.2L284.2 457.5L281.2 457.1Z" fill="#a7dcfb" opacity=".7"/>
<path d="M277.2 439.2L278.8 439.2L287.3 457.8L285.7 457.6Z" fill="#2348b8" opacity=".75"/>
<path d="M283.2 457.3L293.3 458.5L290.3 472.7L280.2 471.5Z" fill="#eddfc2"/>
<path d="M293.3 458.5L300.6 459.4L297.6 473.6L290.3 472.7Z" fill="#3d352f"/>
<path d="M288.2 457.9L290.7 458.2L283.7 471.9L281.2 471.6Z" fill="#ffffff" opacity=".8"/>
<path d="M293.6 439.6L302.7 440.1L306.2 460.1L297.1 458.9Z" fill="#459fec"/>
<path d="M302.7 440.1L311.1 440.7L314.6 461.2L306.2 460.1Z" fill="#34353f"/>
<path d="M295.1 439.6L298.1 439.8L301.6 459.5L298.6 459.1Z" fill="#a7dcfb" opacity=".7"/>
<path d="M294.6 439.6L296.2 439.7L304.7 459.9L303.1 459.7Z" fill="#2348b8" opacity=".75"/>
<path d="M300.6 459.4L310.8 460.7L307.8 474.9L297.6 473.6Z" fill="#eddfc2"/>
<path d="M310.8 460.7L318.1 461.7L315.1 475.9L307.8 474.9Z" fill="#3d352f"/>
<path d="M305.6 460L308.1 460.3L301.1 474L298.6 473.7Z" fill="#ffffff" opacity=".8"/>
<path d="M311.1 440.7L320.2 441.5L323.7 462.6L314.6 461.2Z" fill="#459fec"/>
<path d="M320.2 441.5L328.5 442.5L332 464L323.7 462.6Z" fill="#34353f"/>
<path d="M312.6 440.8L315.6 441.1L319.1 461.9L316.1 461.4Z" fill="#a7dcfb" opacity=".7"/>
<path d="M312.1 440.8L313.7 440.9L322.2 462.3L320.6 462.1Z" fill="#2348b8" opacity=".75"/>
<path d="M318.1 461.7L328.2 463.3L325.2 477.2L315.1 475.9Z" fill="#eddfc2"/>
<path d="M328.2 463.3L335.5 464.6L332.5 478.2L325.2 477.2Z" fill="#3d352f"/>
<path d="M323.1 462.5L325.6 462.9L318.6 476.3L316.1 476Z" fill="#ffffff" opacity=".8"/>
<path d="M328.5 442.5L337.6 443.8L341.1 465.6L332 464Z" fill="#459fec"/>
<path d="M337.6 443.8L346 445.1L349.5 467.2L341.1 465.6Z" fill="#34353f"/>
<path d="M330 442.7L333 443.1L336.5 464.8L333.5 464.3Z" fill="#a7dcfb" opacity=".7"/>
<path d="M329.5 442.6L331.1 442.9L339.6 465.4L338 465.1Z" fill="#2348b8" opacity=".75"/>
<path d="M335.5 464.6L345.7 466.5L342.7 479.6L332.5 478.2Z" fill="#eddfc2"/>
<path d="M345.7 466.5L353 467.8L350 480.6L342.7 479.6Z" fill="#3d352f"/>
<path d="M340.5 465.5L343 466L336 478.6L333.5 478.3Z" fill="#ffffff" opacity=".8"/>
<path d="M346 445.1L355.1 446.7L358.6 468.8L349.5 467.2Z" fill="#459fec"/>
<path d="M355.1 446.7L363.4 448.1L366.9 470.1L358.6 468.8Z" fill="#34353f"/>
<path d="M347.5 445.4L350.5 445.9L354 468L351 467.5Z" fill="#a7dcfb" opacity=".7"/>
<path d="M347 445.3L348.6 445.6L357.1 468.5L355.5 468.2Z" fill="#2348b8" opacity=".75"/>
<path d="M353 467.8L363.1 469.5L360.1 482L350 480.6Z" fill="#eddfc2"/>
<path d="M363.1 469.5L370.4 470.6L367.4 483.1L360.1 482Z" fill="#3d352f"/>
<path d="M358 468.7L360.5 469.1L353.5 481.1L351 480.7Z" fill="#ffffff" opacity=".8"/>
<path d="M363.4 448.1L372.5 449.7L376 471.5L366.9 470.1Z" fill="#459fec"/>
<path d="M372.5 449.7L380.9 451.2L384.4 472.7L376 471.5Z" fill="#34353f"/>
<path d="M364.9 448.3L367.9 448.9L371.4 470.8L368.4 470.3Z" fill="#a7dcfb" opacity=".7"/>
<path d="M364.4 448.3L366 448.5L374.5 471.3L372.9 471Z" fill="#2348b8" opacity=".75"/>
<path d="M370.4 470.6L380.6 472.1L377.6 484.6L367.4 483.1Z" fill="#eddfc2"/>
<path d="M380.6 472.1L387.9 473.2L384.9 485.7L377.6 484.6Z" fill="#3d352f"/>
<path d="M375.4 471.4L377.9 471.8L370.9 483.6L368.4 483.2Z" fill="#ffffff" opacity=".8"/>
<path d="M380.9 451.2L390 452.9L393.5 474L384.4 472.7Z" fill="#459fec"/>
<path d="M390 452.9L398.3 454.7L401.8 475.3L393.5 474Z" fill="#34353f"/>
<path d="M382.4 451.5L385.4 452.1L388.9 473.4L385.9 472.9Z" fill="#a7dcfb" opacity=".7"/>
<path d="M381.9 451.4L383.5 451.7L392 473.8L390.4 473.6Z" fill="#2348b8" opacity=".75"/>
<path d="M387.9 473.2L398 474.7L395 487.2L384.9 485.7Z" fill="#eddfc2"/>
<path d="M398 474.7L405.3 475.8L402.3 488.4L395 487.2Z" fill="#3d352f"/>
<path d="M392.9 473.9L395.4 474.3L388.4 486.2L385.9 485.8Z" fill="#ffffff" opacity=".8"/>
<path d="M398.3 454.7L407.4 456.6L410.9 476.6L401.8 475.3Z" fill="#8fcff6"/>
<path d="M407.4 456.6L415.8 458.6L419.3 477.9L410.9 476.6Z" fill="#2440c2"/>
<path d="M399.8 455L402.8 455.6L406.3 475.9L403.3 475.5Z" fill="#a7dcfb" opacity=".7"/>
<path d="M399.3 454.9L400.9 455.2L409.4 476.4L407.8 476.2Z" fill="#2348b8" opacity=".75"/>
<path d="M405.3 475.8L415.5 477.3L412.5 490L402.3 488.4Z" fill="#eddfc2"/>
<path d="M415.5 477.3L422.8 478.4L419.8 491.1L412.5 490Z" fill="#3d352f"/>
<path d="M410.3 476.5L412.8 476.9L405.8 488.9L403.3 488.5Z" fill="#ffffff" opacity=".8"/>
<path d="M415.8 458.6L424.9 460.7L428.4 479.2L419.3 477.9Z" fill="#8fcff6"/>
<path d="M424.9 460.7L433.2 462.8L436.7 480.5L428.4 479.2Z" fill="#2440c2"/>
<path d="M417.3 458.9L420.3 459.6L423.8 478.5L420.8 478.1Z" fill="#a7dcfb" opacity=".7"/>
<path d="M416.8 458.8L418.4 459.2L426.9 479L425.3 478.8Z" fill="#2348b8" opacity=".75"/>
<path d="M422.8 478.4L432.9 479.9L429.9 492.8L419.8 491.1Z" fill="#eddfc2"/>
<path d="M432.9 479.9L440.2 481L437.2 494L429.9 492.8Z" fill="#3d352f"/>
<path d="M427.8 479.1L430.3 479.5L423.3 491.7L420.8 491.3Z" fill="#ffffff" opacity=".8"/>
<path d="M433.2 462.8L442.3 465.1L445.8 481.9L436.7 480.5Z" fill="#8fcff6"/>
<path d="M442.3 465.1L450.7 467.2L454.2 483.1L445.8 481.9Z" fill="#2440c2"/>
<path d="M434.7 463.2L437.7 463.9L441.2 481.2L438.2 480.7Z" fill="#a7dcfb" opacity=".7"/>
<path d="M434.2 463.1L435.8 463.5L444.3 481.7L442.7 481.4Z" fill="#2348b8" opacity=".75"/>
<path d="M440.2 481L450.4 482.6L447.4 495.8L437.2 494Z" fill="#eddfc2"/>
<path d="M450.4 482.6L457.7 483.6L454.7 497.1L447.4 495.8Z" fill="#3d352f"/>
<path d="M445.2 481.8L447.7 482.2L440.7 494.6L438.2 494.2Z" fill="#ffffff" opacity=".8"/>
<path d="M450.7 467.2L459.8 469.5L463.3 484.5L454.2 483.1Z" fill="#8fcff6"/>
<path d="M459.8 469.5L468.1 471.7L471.6 485.9L463.3 484.5Z" fill="#2440c2"/>
<path d="M452.2 467.5L455.2 468.3L458.7 483.8L455.7 483.3Z" fill="#a7dcfb" opacity=".7"/>
<path d="M451.7 467.4L453.3 467.8L461.8 484.2L460.2 484Z" fill="#2348b8" opacity=".75"/>
<path d="M457.7 483.6L467.8 485.2L464.8 499L454.7 497.1Z" fill="#eddfc2"/>
<path d="M467.8 485.2L475.1 486.5L472.1 500.4L464.8 499Z" fill="#3d352f"/>
<path d="M462.7 484.4L465.2 484.8L458.2 497.8L455.7 497.3Z" fill="#ffffff" opacity=".8"/>
<path d="M468.1 471.7L477.2 474.2L480.7 487.7L471.6 485.9Z" fill="#8fcff6"/>
<path d="M477.2 474.2L485.6 476.7L489.1 489.6L480.7 487.7Z" fill="#2440c2"/>
<path d="M469.6 472.1L472.6 472.9L476.1 486.7L473.1 486.1Z" fill="#a7dcfb" opacity=".7"/>
<path d="M469.1 471.9L470.7 472.4L479.2 487.3L477.6 487Z" fill="#2348b8" opacity=".75"/>
<path d="M475.1 486.5L485.3 488.7L482.3 502.5L472.1 500.4Z" fill="#eddfc2"/>
<path d="M485.3 488.7L492.6 490.5L489.6 504.1L482.3 502.5Z" fill="#3d352f"/>
<path d="M480.1 487.5L482.6 488.1L475.6 501.1L473.1 500.6Z" fill="#ffffff" opacity=".8"/>
<path d="M485.6 476.7L494.7 479.5L498.2 492L489.1 489.6Z" fill="#8fcff6"/>
<path d="M494.7 479.5L503 482.3L506.5 494.2L498.2 492Z" fill="#2440c2"/>
<path d="M487.1 477.1L490.1 478.1L493.6 490.7L490.6 490Z" fill="#a7dcfb" opacity=".7"/>
<path d="M486.6 477L488.2 477.5L496.7 491.6L495.1 491.1Z" fill="#2348b8" opacity=".75"/>
<path d="M492.6 490.5L502.7 493.2L499.7 506.4L489.6 504.1Z" fill="#eddfc2"/>
<path d="M502.7 493.2L510 495.2L507 508.1L499.7 506.4Z" fill="#3d352f"/>
<path d="M497.6 491.8L500.1 492.5L493.1 504.9L490.6 504.3Z" fill="#ffffff" opacity=".8"/>
<path d="M503 482.3L512.1 485.3L515.6 496.8L506.5 494.2Z" fill="#8fcff6"/>
<path d="M512.1 485.3L520.5 488.2L524 499.1L515.6 496.8Z" fill="#2440c2"/>
<path d="M504.5 482.8L507.5 483.8L511 495.5L508 494.7Z" fill="#a7dcfb" opacity=".7"/>
<path d="M504 482.6L505.6 483.1L514.1 496.4L512.5 495.9Z" fill="#2348b8" opacity=".75"/>
<path d="M510 495.2L520.2 498L517.2 510.4L507 508.1Z" fill="#eddfc2"/>
<path d="M520.2 498L527.5 500.1L524.5 511.9L517.2 510.4Z" fill="#3d352f"/>
<path d="M515 496.6L517.5 497.3L510.5 508.9L508 508.3Z" fill="#ffffff" opacity=".8"/>
<path d="M520.5 488.2L529.6 491.4L533.1 501.8L524 499.1Z" fill="#8fcff6"/>
<path d="M529.6 491.4L537.9 494.7L541.4 504.5L533.1 501.8Z" fill="#2440c2"/>
<path d="M522 488.7L525 489.8L528.5 500.4L525.5 499.5Z" fill="#a7dcfb" opacity=".7"/>
<path d="M521.5 488.5L523.1 489.1L531.6 501.3L530 500.8Z" fill="#2348b8" opacity=".75"/>
<path d="M527.5 500.1L537.6 503.2L534.6 513.9L524.5 511.9Z" fill="#eddfc2"/>
<path d="M537.6 503.2L544.9 505.6L541.9 515.4L534.6 513.9Z" fill="#3d352f"/>
<path d="M532.5 501.6L535 502.4L528 512.6L525.5 512.2Z" fill="#ffffff" opacity=".8"/>
<path d="M537.9 494.7L555.4 501.1L558.9 510.6L541.4 504.5Z" fill="#3b3940"/>
<path d="M542.9 496.6L549.3 498.9L546.8 503.1L540.4 500.9Z" fill="#eadfe8"/>
<path d="M544.9 505.6L555.1 509.1L552.1 517.5L541.9 515.4Z" fill="#4b464d"/>
<path d="M555.1 509.1L562.4 511.9L559.4 519.5L552.1 517.5Z" fill="#2e2b30"/>
<path d="M555.4 501.1L572.8 508.7L576.3 517.7L558.9 510.6Z" fill="#3b3940"/>
<path d="M560.4 503.2L566.7 505.9L564.2 509.7L557.9 507.1Z" fill="#eadfe8"/>
<path d="M562.4 511.9L572.5 516.1L569.5 523.2L559.4 519.5Z" fill="#4b464d"/>
<path d="M572.5 516.1L579.8 519.2L576.8 526.1L569.5 523.2Z" fill="#2e2b30"/>
<path d="M572.8 508.7L590.3 517.4L593.8 525.7L576.3 517.7Z" fill="#3b3940"/>
<path d="M577.8 511L584.2 514.1L581.7 517.3L575.3 514.5Z" fill="#eadfe8"/>
<path d="M579.8 519.2L590 523.8L587 530.3L576.8 526.1Z" fill="#4b464d"/>
<path d="M590 523.8L597.3 527.5L594.3 533.4L587 530.3Z" fill="#2e2b30"/>
<path d="M590.3 517.4L607.8 528.5L611.2 535.7L593.8 525.7Z" fill="#3b3940"/>
<path d="M595.3 520.5L601.6 524.5L599.1 526.4L592.8 522.8Z" fill="#eadfe8"/>
<path d="M597.3 527.5L607.4 533.3L604.4 538L594.3 533.4Z" fill="#4b464d"/>
<path d="M607.4 533.3L614.8 537.8L611.8 541.4L604.4 538Z" fill="#2e2b30"/>
<path d="M607.8 528.5L625.2 541.3L628.7 547.1L611.2 535.7Z" fill="#3b3940"/>
<path d="M612.8 531.9L619.1 536.5L616.6 537.3L610.2 533.2Z" fill="#eadfe8"/>
<path d="M614.8 537.8L624.9 544.6L621.9 546.5L611.8 541.4Z" fill="#4b464d"/>
<path d="M624.9 544.6L632.2 548L629.2 550.5L621.9 546.5Z" fill="#2e2b30"/>
<path d="M625.2 541.3L642.7 545.5L646.2 548L628.7 547.1Z" fill="#3b3940"/>
<path d="M630.2 545.5L636.5 545.5L634 547L627.7 545.3Z" fill="#eadfe8"/>
<path d="M632.2 548L642.3 548L639.3 551L629.2 550.5Z" fill="#4b464d"/>
<path d="M642.3 548L649.7 548L646.7 551L639.3 551Z" fill="#2e2b30"/>
<path d="M170 450.5L178 450.5L186 450.4L194 450.5L202 450.7L210 451.2L218 451.7L226 452.3L234 453L242 453.7L250 454.3L258 455L266 455.7L274 456.4L282 457.2L290 458.1L298 459L306 460L314 461.1L322 462.3L330 463.6L338 465.1L346 466.5L354 468L362 469.3L370 470.6L378 471.8L386 472.9L394 474.1L402 475.3L410 476.5L418 477.7L426 478.9L434 480.1L442 481.3L450 482.5L458 483.7L466 484.9L474 486.3L482 487.9L490 489.8L498 491.9L506 494.1L514 496.3L522 498.6L530 500.8L538 503.4L546 506L554 508.7L562 511.8L570 515L578 518.4L586 522L594 525.8L602 530.1L610 534.9L618 539.9L626 545.3L629 547.3" fill="none" stroke="#1d1d28" stroke-width="1.2" opacity=".6"/>
<path d="M170 464.2L178 464.5L186 464.9L194 465.5L202 466.1L210 466.7L218 467.4L226 468L234 468.7L242 469.4L250 470L258 470.7L266 471.3L274 472.1L282 472.9L290 473.8L298 474.8L306 475.9L314 476.9L322 478L330 479L338 480.1L346 481.2L354 482.3L362 483.5L370 484.7L378 485.8L386 487L394 488.3L402 489.5L410 490.8L418 492L426 493.3L434 494.7L442 496.1L450 497.5L458 498.9L466 500.4L474 502L482 503.6L490 505.4L498 507.2L506 509L514 510.9L522 512.6L530 514.2L538 515.8L546 517.4L554 519.2L562 521.6L570 524.6L578 527.8L586 531.1L594 534.5L602 538.1L610 541.8L618 545.7L626 550L629 551.6" fill="none" stroke="#dcc3cd" stroke-width="3.4" filter="url(#lb1)" opacity=".9"/>
<path d="M118 444.5L126 442.4L134 438.9L142 435.6L150 432.3L158 429.2L166 426.6L174 424.5L182 422.4L190 419.8L198 417.9L206 416.6L214 415.6L222 414.7L230 413.9L238 413.2L246 412.6L254 412.1L262 411.8L270 411.5L278 411.4L286 411.4L294 411.5L302 411.7L310 412L318 412.5L326 413.1L334 413.9L342 414.8L350 415.9L358 417.2L366 418.5L374 420L382 421.7L390 423.5L398 425.5L406 427.6L414 430L422 432.6L430 435.2L438 437.8L446 440.5L454 443.1L462 445.8L470 448.5L478 451.3L486 454.1L494 457.1L502 460.3L510 463.6L518 467.1L526 470.7L534 474.5L542 478.5L550 482.6L558 486.9L566 491.4L574 496L582 500.7L590 505.6L598 511.1L606 516.8L614 522.7L622 529.4L630 537L632 537L632 545L631 545L623 539L615 533L607 527.5L599 522.4L591 517.4L583 512.9L575 508.5L567 504.2L559 500L551 495.7L543 491.5L535 487.5L527 483.7L519 480.1L511 476.6L503 473.2L495 470L487 467L479 464.2L471 461.4L463 458.6L455 455.9L447 453.3L439 450.7L431 448.1L423 445.6L415 443.2L407 440.9L399 438.7L391 436.7L383 434.8L375 433.1L367 431.4L359 429.8L351 428.3L343 426.8L335 425.4L327 424.3L319 423.4L311 422.8L303 422.5L295 422.4L287 422.4L279 422.5L271 422.8L263 423.3L255 423.8L247 424.5L239 425.1L231 425.8L223 426.7L215 427.6L207 428.5L199 429.7L191 431L183 432.4L175 434L167 435.6L159 437L151 438.3L143 439.9L135 441.5L121.5 446Z" fill="url(#bandg)"/>
<path d="M300 418.8L308 419.1L316 419.6L324 420.3L332 421.4L340 422.6L348 424.1L356 425.6L364 427.2L372 428.8L380 430.6L388 432.4L396 434.4L404 436.5L412 438.7L420 441.1L428 443.6L436 446.1L444 448.7L452 451.3L460 454L468 456.7L476 459.5L484 462.3L492 465.2L500 468.4L508 471.7L516 475.1L524 478.7L532 482.5L540 486.4L548 490.5" fill="none" stroke="#ee52b4" stroke-width="5" stroke-dasharray="12.5 4.5" opacity=".85"/>
<path d="M552 493L558 496.2L564 499.4L570 502.6L576 505.9L582 509.1L588 512.5L594 516.1L600 519.8L606 523.7L612 527.7L618 532" fill="none" stroke="#ea4fae" stroke-width="3.6" stroke-dasharray="6 11" opacity=".8"/>
<path d="M176 431.8L182 430.6L188 429.5L194 428.5L200 427.5L206 426.7L212 425.9L218 425.2L224 424.5L230 423.9L236 423.3L242 422.8L248 422.4L254 421.9L260 421.5L266 421.1L272 420.8L278 420.5L284 420.4L290 420.4L296 420.4L302 420.5L308 420.7L314 421L320 421.5L326 422.2L330 422.7" fill="none" stroke="#9b45c8" stroke-width="2.6" stroke-dasharray="9 8" opacity=".8"/>
<path d="M230 415.1L238 414.4L246 413.8L254 413.3L262 413L270 412.7L278 412.6L286 412.6L294 412.7L302 412.9L310 413.2L318 413.7L326 414.3L334 415.1L342 416L350 417.1L358 418.4L366 419.7L374 421.2L382 422.9L390 424.7L398 426.7L406 428.8L414 431.2L422 433.8L430 436.4L438 439L446 441.7L454 444.3L462 447L470 449.7L478 452.5L486 455.3L494 458.3L502 461.5L510 464.8L518 468.3L526 471.9L534 475.7L542 479.7L550 483.8L558 488.1L566 492.6L574 497.2L582 501.9L590 506.8L598 512.3L606 518L614 523.9L622 530.6L630 538.2L632 538.2" fill="none" stroke="#c9155f" stroke-width="2.4" opacity=".7"/>
</g>
<path d="M625 531.5C631.5 536 632 550 627 553.6L623 548Z" fill="#55464e" opacity=".75"/>
<circle cx="257" cy="437.4" r="5.7" fill="#0b0b10"/>
<ellipse cx="256" cy="434.8" rx="2.4" ry="1.4" fill="#4a4a55" opacity=".7"/>
<circle cx="296" cy="439.3" r="6.4" fill="#0b0b10"/>
<ellipse cx="295" cy="436.4" rx="2.7" ry="1.6" fill="#4a4a55" opacity=".7"/>
<circle cx="332" cy="444" r="6.5" fill="#0b0b10"/>
<ellipse cx="331" cy="441.1" rx="2.7" ry="1.6" fill="#4a4a55" opacity=".7"/>
<circle cx="368" cy="450" r="7" fill="#0b0b10"/>
<ellipse cx="367" cy="446.9" rx="2.9" ry="1.8" fill="#4a4a55" opacity=".7"/>
<circle cx="406.4" cy="457.4" r="7" fill="#0b0b10"/>
<ellipse cx="405.4" cy="454.2" rx="2.9" ry="1.8" fill="#4a4a55" opacity=".7"/>
<circle cx="442" cy="465.8" r="7" fill="#0b0b10"/>
<ellipse cx="441" cy="462.7" rx="2.9" ry="1.8" fill="#4a4a55" opacity=".7"/>
<circle cx="475.2" cy="472.8" r="5.2" fill="#0b0b10"/>
<ellipse cx="474.2" cy="470.5" rx="2.2" ry="1.3" fill="#4a4a55" opacity=".7"/>
</g>
<g filter="url(#lb)">
<path d="M121.2 445.6C122.3 445 129.5 447.2 134.3 449.4C139.1 451.5 144.8 454.7 150 458.4C155.3 462 162.8 468 165.8 471.2C168.8 474.4 169.5 477 168 477.5C166.5 478 160.2 475.3 156.8 474.1C153.3 472.9 150.7 472.4 147.3 470.3C143.9 468.2 139.8 464.2 136.5 461.3C133.2 458.4 130.1 455.4 127.5 452.8C125 450.1 120.1 446.1 121.2 445.6Z" fill="#d9bccd"/>
<path d="M121.9 446C123.9 447.7 129.8 452.1 134.3 456.1C138.8 460.2 146.4 467.9 148.9 470.3" fill="none" stroke="#a77b9a" stroke-width="1.6"/>
<path d="M124.1 446C126.9 447.5 135.2 451.2 141 455C146.8 458.8 154.6 465.3 159 469C163.4 472.6 166.1 475.7 167.6 477.1" fill="none" stroke="#8e5c86" stroke-width="1.3" opacity=".8"/>
<path d="M148.2 470.3L159 474.1L166.2 477.5L168.5 485.4L167.6 493.7L150 496.9L127.5 500L100.5 505.6L76.2 511.7L72.6 507.2L91.5 497.3L111.8 487.6L134.3 477.5Z" fill="url(#lipg)"/>
<path d="M108.4 491.5L125.3 486.1L127.5 489.2L119 493.7L93.8 501.1L91.5 499.6Z" fill="#e9e9ea" opacity=".9"/>
<path d="M87 507.2L127.5 495.1L148.9 493.7L151.8 496.4L127.5 499.6L96 506.3Z" fill="#dededf" opacity=".9"/>
<path d="M150 471.9L165.8 478L167.6 484.3L159 477.5Z" fill="#f1f1f2" opacity=".8"/>
<path d="M72.6 507.2L78.9 504.5L80.7 510.4L76.2 511.7Z" fill="#d4688e" opacity=".7"/>
<circle cx="111.9" cy="445.6" r="8.5" fill="none" stroke="#79777d" stroke-width="3.7"/>
<circle cx="111.9" cy="445.6" r="8.6" fill="none" stroke="#c2c0c6" stroke-width="1.3"/>
<path d="M103.4 444.6a8.5 8.5 0 0 1 8 -7.5" fill="none" stroke="#5e5a62" stroke-width="1.6" opacity=".7"/>
<path d="M173.6 432.1C176.1 432.1 183.2 431.4 188.3 432.1C193.3 432.7 199.1 433.9 204 435.9C208.9 437.8 213.8 440.6 217.5 443.8C221.2 446.9 224.9 451.1 226.1 455C227.2 458.9 226.1 463.6 224.3 467.4C222.5 471.1 219 474.7 215.3 477.5C211.5 480.3 206.6 483.2 201.8 484.3C196.9 485.3 190.9 484.9 186 483.8C181.1 482.7 176.4 480 172.5 477.5C168.6 475 164.1 470.4 162.4 469" fill="none" stroke="#b9408c" stroke-width="2.1" opacity=".9"/>
<path d="M204 437.5C206.1 438.8 213.1 442.5 216.4 445.6C219.7 448.6 222.9 452.2 223.8 455.7C224.7 459.2 223.7 463.3 222 466.7C220.4 470.1 215.3 474.6 213.9 476.2" fill="none" stroke="#f6d7e6" stroke-width="1.3" opacity=".9"/>
<path d="M121.5 444.8L135 438.6L150 433.2L158 431L150 452L138 450Z" fill="#6d3389"/>
<path d="M128 444L140 439.5L146 441L141 447.5L133 448Z" fill="#b9a2cc" opacity=".85"/>
<path d="M122 445L130 446.5L146 452L150 457L138 452Z" fill="#3f2356" opacity=".85"/>
<circle cx="160.6" cy="446" r="15.6" fill="#4a3448"/>
<circle cx="160.6" cy="446" r="13.3" fill="#a89a3a"/>
<circle cx="160.6" cy="446" r="11.8" fill="#0d0c0c"/>
<path d="M148.8 448a11.8 11.8 0 0 0 23.6 0z" fill="#2a2420" opacity=".8"/>
</g>
<g filter="url(#lb)" fill="none" stroke-linejoin="round">
<ellipse cx="322.2" cy="518" rx="11.6" ry="9.6" fill="#a6a68e" stroke="#8a8a74" stroke-width="1.2" transform="rotate(20 322.2 518)"/>
<path d="M316.5 514.5C320 511 326 512.5 329.5 517.5C327 521.5 320.5 521 316.5 514.5Z" fill="#5f5f34" stroke="none"/>
<path d="M313 520C316 525.5 323 527.5 329 525" stroke="#dadacc" stroke-width="2.2" stroke-linecap="round"/>
<path d="M317 511.5C322 509.5 329 511 332.5 515.5" stroke="#e6e6da" stroke-width="2" stroke-linecap="round"/>
<path d="M318.5 514L331 522" stroke="#d7d7c8" stroke-width="2.6" stroke-linecap="round"/>
<path d="M327 523L339.5 538.5" stroke="#8c8c76" stroke-width="7.5" stroke-linecap="round"/>
<path d="M327 523L339.5 538.5" stroke="#c3c3b2" stroke-width="4.6" stroke-linecap="round"/>
<path d="M331 527L337 535" stroke="#67673e" stroke-width="2" stroke-linecap="round"/>
<path d="M328.5 522.5L340 536" stroke="#e9e9de" stroke-width="1.2" stroke-linecap="round"/>
<path d="M336.8 530C335.9 530.9 333.1 533.4 331.9 535.6C330.7 537.9 329.2 541 329.6 543.5C330.1 546 332.7 548.5 334.7 550.6C336.7 552.8 339.5 555.6 341.6 556.3C343.7 556.9 346.4 556.5 347.3 554.4C348.1 552.3 347.5 546.9 346.9 543.5C346.3 540.1 345.2 536 343.5 533.8C341.8 531.5 337.9 530.6 336.8 530" stroke="#8f8f91" stroke-width="4.6" stroke-linecap="round"/><path d="M336.8 530C335.9 530.9 333.1 533.4 331.9 535.6C330.7 537.9 329.2 541 329.6 543.5C330.1 546 332.7 548.5 334.7 550.6C336.7 552.8 339.5 555.6 341.6 556.3C343.7 556.9 346.4 556.5 347.3 554.4C348.1 552.3 347.5 546.9 346.9 543.5C346.3 540.1 345.2 536 343.5 533.8C341.8 531.5 337.9 530.6 336.8 530" stroke="#c9c9cb" stroke-width="3" stroke-linecap="round"/><path d="M336.8 530C335.9 530.9 333.1 533.4 331.9 535.6C330.7 537.9 329.2 541 329.6 543.5C330.1 546 332.7 548.5 334.7 550.6C336.7 552.8 339.5 555.6 341.6 556.3C343.7 556.9 346.4 556.5 347.3 554.4C348.1 552.3 347.5 546.9 346.9 543.5C346.3 540.1 345.2 536 343.5 533.8C341.8 531.5 337.9 530.6 336.8 530" stroke="#efeff0" stroke-width="1.4" stroke-linecap="round"/>
<path d="M344.3 555.5C345.1 557.9 347.1 564.2 349.1 569.8C351.2 575.3 355.4 585.7 356.6 588.9" stroke="#a9a9ab" stroke-width="10.5" stroke-linecap="butt"/><path d="M344.3 555.5C345.1 557.9 347.1 564.2 349.1 569.8C351.2 575.3 355.4 585.7 356.6 588.9" stroke="#d0d0d2" stroke-width="6.9" stroke-linecap="butt"/><path d="M344.3 555.5C345.1 557.9 347.1 564.2 349.1 569.8C351.2 575.3 355.4 585.7 356.6 588.9" stroke="#e9e9ea" stroke-width="3.1" stroke-linecap="butt"/>
<path d="M351 589.3L361.9 586.6" stroke="#9a9a9c" stroke-width="1.4"/>
<path d="M357.8 591.1C358.9 593 362 598.7 364.7 602.2C367.4 605.7 370.5 609.6 374.1 612.1C377.7 614.6 382 616.3 386.3 617.2C390.5 618 395.2 618 399.4 617.2C403.6 616.3 408.4 614.6 411.6 612.1C414.8 609.6 417.5 605.6 418.5 602.2C419.5 598.8 418.8 595.4 417.8 591.9C416.8 588.3 413.4 582.8 412.5 581" stroke="#8f8f91" stroke-width="6.2" stroke-linecap="round"/><path d="M357.8 591.1C358.9 593 362 598.7 364.7 602.2C367.4 605.7 370.5 609.6 374.1 612.1C377.7 614.6 382 616.3 386.3 617.2C390.5 618 395.2 618 399.4 617.2C403.6 616.3 408.4 614.6 411.6 612.1C414.8 609.6 417.5 605.6 418.5 602.2C419.5 598.8 418.8 595.4 417.8 591.9C416.8 588.3 413.4 582.8 412.5 581" stroke="#c9c9cb" stroke-width="4.1" stroke-linecap="round"/><path d="M357.8 591.1C358.9 593 362 598.7 364.7 602.2C367.4 605.7 370.5 609.6 374.1 612.1C377.7 614.6 382 616.3 386.3 617.2C390.5 618 395.2 618 399.4 617.2C403.6 616.3 408.4 614.6 411.6 612.1C414.8 609.6 417.5 605.6 418.5 602.2C419.5 598.8 418.8 595.4 417.8 591.9C416.8 588.3 413.4 582.8 412.5 581" stroke="#efeff0" stroke-width="1.9" stroke-linecap="round"/>
<path d="M409.9 582.1L400.9 565.6L415.9 580.6Z" fill="#c6c6c8" stroke="none"/>
<path d="M408.4 580.6L407.3 586.6L410.6 583.3Z" fill="#b6b6b8" stroke="none"/>
<path d="M356.3 590C356.9 592 359.4 598.1 360.4 602.2C361.3 606.3 362.3 610.2 361.9 614.4C361.5 618.6 360.3 623.7 358.1 627.5C356 631.3 352.4 635.1 349.1 637.3C345.8 639.4 341.3 640.9 338.4 640.3C335.6 639.6 333.7 636.9 331.9 633.5C330 630.1 328.6 624.1 327.4 620C326.2 615.9 325.2 610.6 324.8 608.8" stroke="#8f8f91" stroke-width="6.2" stroke-linecap="round"/><path d="M356.3 590C356.9 592 359.4 598.1 360.4 602.2C361.3 606.3 362.3 610.2 361.9 614.4C361.5 618.6 360.3 623.7 358.1 627.5C356 631.3 352.4 635.1 349.1 637.3C345.8 639.4 341.3 640.9 338.4 640.3C335.6 639.6 333.7 636.9 331.9 633.5C330 630.1 328.6 624.1 327.4 620C326.2 615.9 325.2 610.6 324.8 608.8" stroke="#c9c9cb" stroke-width="4.1" stroke-linecap="round"/><path d="M356.3 590C356.9 592 359.4 598.1 360.4 602.2C361.3 606.3 362.3 610.2 361.9 614.4C361.5 618.6 360.3 623.7 358.1 627.5C356 631.3 352.4 635.1 349.1 637.3C345.8 639.4 341.3 640.9 338.4 640.3C335.6 639.6 333.7 636.9 331.9 633.5C330 630.1 328.6 624.1 327.4 620C326.2 615.9 325.2 610.6 324.8 608.8" stroke="#efeff0" stroke-width="1.9" stroke-linecap="round"/>
<path d="M322.1 610.6L321.2 597.5L327.8 609.7Z" fill="#c6c6c8" stroke="none"/>
<path d="M328.1 613.6L332.3 620L329.6 619.3Z" fill="#b6b6b8" stroke="none"/>
<path d="M353.4 629.4L345 618.1L338.4 597.5L336.2 585.3L342.8 597.5L349.7 614.4L356.3 623.8Z" fill="#cfcfd1" stroke="#a9a9ab" stroke-width=".8"/>
<circle cx="636.5" cy="547.4" r="7.4" stroke="#8e8e90" stroke-width="4.4"/>
<circle cx="636.5" cy="547.4" r="7.4" stroke="#d2d2d4" stroke-width="2.4"/>
<circle cx="638" cy="545.9" r="3.2" fill="#4c4648" stroke="none"/>
<path d="M631.9 537.4C633.5 537.2 638.5 534.7 641.4 535.9C644.3 537.2 647.1 541.3 649.3 544.9C651.5 548.5 653.8 554 654.8 557.6C655.9 561.2 655.5 565.1 655.7 566.5" stroke="#9a9a9c" stroke-width="3.6" stroke-linecap="round"/><path d="M631.9 537.4C633.5 537.2 638.5 534.7 641.4 535.9C644.3 537.2 647.1 541.3 649.3 544.9C651.5 548.5 653.8 554 654.8 557.6C655.9 561.2 655.5 565.1 655.7 566.5" stroke="#cfcfd1" stroke-width="2.4" stroke-linecap="round"/><path d="M631.9 537.4C633.5 537.2 638.5 534.7 641.4 535.9C644.3 537.2 647.1 541.3 649.3 544.9C651.5 548.5 653.8 554 654.8 557.6C655.9 561.2 655.5 565.1 655.7 566.5" stroke="#efeff0" stroke-width="1.1" stroke-linecap="round"/>
<path d="M637.8 555.1C638.2 556.2 639.4 559.7 640.4 561.9C641.3 564 643 566.8 643.6 567.8" stroke="#9a9a9c" stroke-width="3.2" stroke-linecap="round"/><path d="M637.8 555.1C638.2 556.2 639.4 559.7 640.4 561.9C641.3 564 643 566.8 643.6 567.8" stroke="#cfcfd1" stroke-width="2.1" stroke-linecap="round"/><path d="M637.8 555.1C638.2 556.2 639.4 559.7 640.4 561.9C641.3 564 643 566.8 643.6 567.8" stroke="#efeff0" stroke-width="1" stroke-linecap="round"/>
<path d="M649.3 567C648.1 567.5 643.8 568.5 642.1 570.4C640.4 572.3 638.8 575.7 639.1 578.4C639.3 581.2 641.3 584.5 643.6 586.9C645.8 589.4 650.2 592.5 652.7 593.3C655.2 594.1 657.2 593.3 658.6 591.6C660.1 589.9 661 585.9 661.6 583.1C662.3 580.4 663.1 577.4 662.5 575C661.8 572.7 660 570.4 657.8 569.1C655.6 567.8 650.7 567.3 649.3 567" stroke="#8f8f91" stroke-width="4.6" stroke-linecap="round"/><path d="M649.3 567C648.1 567.5 643.8 568.5 642.1 570.4C640.4 572.3 638.8 575.7 639.1 578.4C639.3 581.2 641.3 584.5 643.6 586.9C645.8 589.4 650.2 592.5 652.7 593.3C655.2 594.1 657.2 593.3 658.6 591.6C660.1 589.9 661 585.9 661.6 583.1C662.3 580.4 663.1 577.4 662.5 575C661.8 572.7 660 570.4 657.8 569.1C655.6 567.8 650.7 567.3 649.3 567" stroke="#c9c9cb" stroke-width="3" stroke-linecap="round"/><path d="M649.3 567C648.1 567.5 643.8 568.5 642.1 570.4C640.4 572.3 638.8 575.7 639.1 578.4C639.3 581.2 641.3 584.5 643.6 586.9C645.8 589.4 650.2 592.5 652.7 593.3C655.2 594.1 657.2 593.3 658.6 591.6C660.1 589.9 661 585.9 661.6 583.1C662.3 580.4 663.1 577.4 662.5 575C661.8 572.7 660 570.4 657.8 569.1C655.6 567.8 650.7 567.3 649.3 567" stroke="#efeff0" stroke-width="1.4" stroke-linecap="round"/>
<path d="M654.8 593.3C656 596.2 659.3 604.9 662 610.7C664.8 616.6 669.7 625.3 671.2 628.2" stroke="#a9a9ab" stroke-width="10.5" stroke-linecap="butt"/><path d="M654.8 593.3C656 596.2 659.3 604.9 662 610.7C664.8 616.6 669.7 625.3 671.2 628.2" stroke="#d0d0d2" stroke-width="6.9" stroke-linecap="butt"/><path d="M654.8 593.3C656 596.2 659.3 604.9 662 610.7C664.8 616.6 669.7 625.3 671.2 628.2" stroke="#e9e9ea" stroke-width="3.1" stroke-linecap="butt"/>
<path d="M665 629.4L676.5 624.8" stroke="#9a9a9c" stroke-width="1.4"/>
<path d="M672.7 630.3C673.9 632.3 677.4 638.6 680.3 642.2C683.3 645.7 686.3 649.2 690.3 651.5C694.3 653.9 699.5 655.8 704.1 656.4C708.7 657.1 713.7 656.7 717.9 655.4C722.2 654 726.8 651.2 729.6 648.1C732.4 645.1 734.4 641 734.7 637.3C735 633.6 732.9 629.1 731.3 626C729.8 623 726.4 620 725.4 618.8" stroke="#8f8f91" stroke-width="6" stroke-linecap="round"/><path d="M672.7 630.3C673.9 632.3 677.4 638.6 680.3 642.2C683.3 645.7 686.3 649.2 690.3 651.5C694.3 653.9 699.5 655.8 704.1 656.4C708.7 657.1 713.7 656.7 717.9 655.4C722.2 654 726.8 651.2 729.6 648.1C732.4 645.1 734.4 641 734.7 637.3C735 633.6 732.9 629.1 731.3 626C729.8 623 726.4 620 725.4 618.8" stroke="#c9c9cb" stroke-width="4" stroke-linecap="round"/><path d="M672.7 630.3C673.9 632.3 677.4 638.6 680.3 642.2C683.3 645.7 686.3 649.2 690.3 651.5C694.3 653.9 699.5 655.8 704.1 656.4C708.7 657.1 713.7 656.7 717.9 655.4C722.2 654 726.8 651.2 729.6 648.1C732.4 645.1 734.4 641 734.7 637.3C735 633.6 732.9 629.1 731.3 626C729.8 623 726.4 620 725.4 618.8" stroke="#efeff0" stroke-width="1.8" stroke-linecap="round"/>
<path d="M722.2 620.3L714.7 603.3L728.3 617.5Z" fill="#c9c9cb" stroke="none"/>
<path d="M723.2 620.9L722 627.3L725.4 623.5Z" fill="#b6b6b8" stroke="none"/>
<path d="M671.2 629.9C671.9 632.3 674.5 640 675.4 644.7C676.3 649.5 677 654.1 676.5 658.6C676 663 674.6 668.1 672.7 671.3C670.7 674.5 667.4 677.1 664.8 677.7C662.2 678.2 659.2 677 656.9 674.5C654.7 672 653.1 667.1 651.4 662.8C649.8 658.6 647.9 651.3 647.2 649" stroke="#8f8f91" stroke-width="6" stroke-linecap="round"/><path d="M671.2 629.9C671.9 632.3 674.5 640 675.4 644.7C676.3 649.5 677 654.1 676.5 658.6C676 663 674.6 668.1 672.7 671.3C670.7 674.5 667.4 677.1 664.8 677.7C662.2 678.2 659.2 677 656.9 674.5C654.7 672 653.1 667.1 651.4 662.8C649.8 658.6 647.9 651.3 647.2 649" stroke="#c9c9cb" stroke-width="4" stroke-linecap="round"/><path d="M671.2 629.9C671.9 632.3 674.5 640 675.4 644.7C676.3 649.5 677 654.1 676.5 658.6C676 663 674.6 668.1 672.7 671.3C670.7 674.5 667.4 677.1 664.8 677.7C662.2 678.2 659.2 677 656.9 674.5C654.7 672 653.1 667.1 651.4 662.8C649.8 658.6 647.9 651.3 647.2 649" stroke="#efeff0" stroke-width="1.8" stroke-linecap="round"/>
<path d="M645.5 652.2L640.4 631.1L651.4 649.4Z" fill="#cfcfd1" stroke="#a9a9ab" stroke-width=".8"/>
<path d="M649.7 658.3L644 630.7L654.8 655.8Z" fill="#cfcfd1" stroke="#a9a9ab" stroke-width=".8"/>
<path d="M657.4 674.5C658.4 675 661.6 677.5 663.7 677.5C665.9 677.5 669.1 675 670.1 674.5" stroke="#b59b4a" stroke-width="1" opacity=".7"/>
</g>
<g fill="none" stroke="#050505" stroke-width="2">
<path d="M159.6 270V440"/>
<path d="M669 348.5H721.2V604"/>
<path d="M380 475V676"/>
<path d="M649.3 562V739.5H597"/>
</g>
<circle cx="159.6" cy="264.5" r="5.1" fill="#fff" stroke="#d9131f" stroke-width="2.1"/>
<circle cx="159.7" cy="443.7" r="7.5" fill="#e8202a" opacity=".55" filter="url(#b1)"/><circle cx="159.7" cy="443.7" r="5.3" fill="#fff" stroke="#d9131f" stroke-width="2.5"/>
<circle cx="664" cy="348.4" r="5.1" fill="#fff" stroke="#d9131f" stroke-width="2.1"/>
<circle cx="721.1" cy="609.7" r="5.1" fill="#fff" stroke="#d9131f" stroke-width="2.1"/>
<circle cx="379.8" cy="469.5" r="5.1" fill="#fff" stroke="#d9131f" stroke-width="2.1"/>
<circle cx="380" cy="681.5" r="5.1" fill="#fff" stroke="#d9131f" stroke-width="2.1"/>
<circle cx="649" cy="556.6" r="5.1" fill="#fff" stroke="#d9131f" stroke-width="2.1"/>
<circle cx="592" cy="739.2" r="5.1" fill="#fff" stroke="#d9131f" stroke-width="2.1"/>
<g font-size="24" fill="#2b2b2b" stroke="#fff" stroke-width=".2" opacity=".999">
<text x="174.2" y="274" textLength="301.8" lengthAdjust="spacing">3D HIGH SIMULATION EYES</text>
<text x="270.4" y="356" textLength="384.4" lengthAdjust="spacing">HIGH QUALITY SHARPENED HOOK</text>
<text x="86.8" y="691" textLength="280.8" lengthAdjust="spacing">GORGEOUS PAINT BODY</text>
<text x="452.4" y="749" textLength="129.2" lengthAdjust="spacing">SPUIT RING</text>
</g>
</svg>
</body></html>
